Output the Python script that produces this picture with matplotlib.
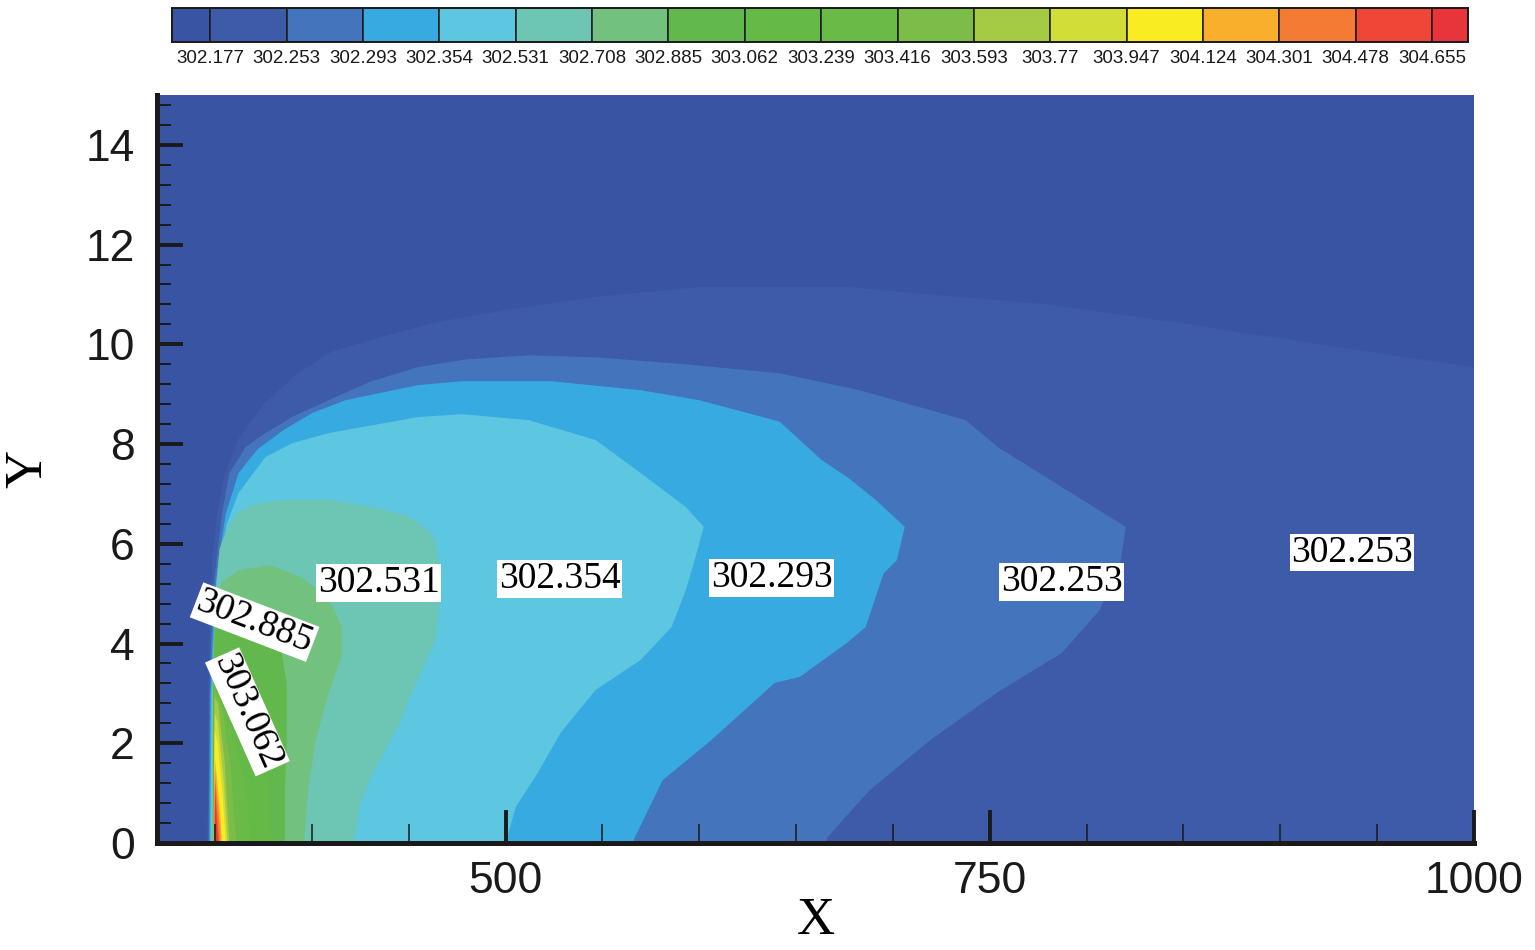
import matplotlib
matplotlib.use("Agg")
import matplotlib.pyplot as plt
from matplotlib.ticker import MultipleLocator

# contour levels shown in the legend bar
levels = ["302.177", "302.253", "302.293", "302.354", "302.531", "302.708",
          "302.885", "303.062", "303.239", "303.416", "303.593", "303.77",
          "303.947", "304.124", "304.301", "304.478", "304.655"]

# one colour per band (below first level ... above last level)
band_colors = ["#3a54a4", "#3d5ba8", "#4474bb", "#37aae2", "#5dc6e0", "#6dc5b4",
               "#72c17f", "#62b84c", "#64b947", "#69ba47", "#7bbd48", "#a5cb45",
               "#d2dd38", "#f9ec20", "#f9ae2c", "#f47b33", "#ee4637", "#e8343b"]

# region boundaries (T > level) as (X, Y)
edge_302177 = [(346.1, 0), (346.6, 3.0), (347.1, 4.5), (348.5, 5.7), (351.0, 6.6), (355.0, 7.4),
               (362.0, 8.1), (375.0, 8.8), (392.0, 9.4), (410.0, 9.85), (431.3, 10.1), (465.0, 10.45),
               (500.5, 10.69), (546.5, 10.95), (600.0, 11.15), (677.7, 11.15), (710.2, 11.03),
               (780.0, 10.8), (847.6, 10.43), (920.0, 10.0), (1000, 9.54), (1000, 0)]
edge_302253 = [(346.6, 0), (347.1, 3.0), (348.7, 5.0), (350.7, 5.67), (353.5, 6.6), (357.4, 7.42),
               (366.0, 7.95), (376.0, 8.22), (390.0, 8.55), (408.6, 8.88), (430.0, 9.25), (454.5, 9.54),
               (480.0, 9.7), (511.9, 9.78), (546.5, 9.74), (593.0, 9.6), (641.5, 9.42), (682.8, 9.08),
               (737.6, 8.48), (754.1, 7.94), (778.9, 7.34), (820.2, 6.34), (817.6, 5.67), (806.8, 4.67),
               (787.2, 3.81), (753.6, 3.01), (719.5, 2.07), (688.0, 1.06), (666.3, 0.12), (665.3, 0)]
edge_302293 = [(347.1, 0), (347.6, 3.0), (349.7, 5.0), (351.8, 5.67), (355.5, 6.6), (362.1, 7.42),
               (372.0, 7.9), (385.3, 8.28), (400.0, 8.62), (417.4, 8.88), (454.5, 9.18), (477.3, 9.26),
               (523.8, 9.26), (569.7, 9.08), (600.0, 8.88), (641.5, 8.45), (663.2, 7.68), (677.7, 7.3),
               (691.1, 6.88), (706.1, 6.34), (702.0, 5.67), (695.2, 5.41), (685.9, 4.33), (676.1, 4.01),
               (651.9, 3.33), (638.9, 3.21), (606.4, 2.07), (581.1, 1.26), (566.1, 0.06), (565.6, 0)]
edge_302354 = [(347.6, 0), (348.2, 3.0), (350.7, 5.0), (352.8, 5.67), (356.0, 6.4), (362.1, 7.02),
               (376.0, 7.74), (390.0, 8.02), (408.6, 8.22), (454.5, 8.54), (477.3, 8.60), (511.9, 8.48),
               (546.5, 8.08), (569.7, 7.42), (593.0, 6.74), (602.3, 6.34), (597.6, 5.67), (593.0, 5.07),
               (585.7, 4.33), (569.7, 3.67), (546.5, 3.07), (528.4, 2.21), (516.5, 1.40), (505.2, 0.72),
               (500.5, 0.06), (500.5, 0)]
edge_302531 = [(348.2, 0), (348.7, 3.0), (350.2, 5.0), (352.3, 5.9), (356.4, 6.34), (361.1, 6.6),
               (370.0, 6.8), (385.3, 6.88), (408.6, 6.88), (431.3, 6.74), (450.0, 6.55), (459.0, 6.3),
               (463.8, 6.08), (465.9, 5.4), (465.9, 4.73), (463.8, 4.07), (454.5, 3.27), (445.3, 2.41),
               (431.3, 1.40), (424.6, 0.72), (422.0, 0.06), (422.0, 0)]
edge_302708 = [(348.7, 0), (348.7, 3.0), (349.2, 4.07), (353.0, 5.21), (362.1, 5.47), (378.4, 5.57),
               (394.5, 5.33), (408.4, 4.93), (415.3, 4.33), (415.3, 3.73), (409.0, 3.07), (402.0, 2.07),
               (398.0, 1.06), (396.0, 0)]
edge_302885 = [(348.9, 0), (349.0, 3.0), (349.7, 4.3), (356.0, 4.6), (366.0, 4.65), (376.0, 4.4),
               (384.0, 3.9), (387.0, 3.2), (387.0, 2.07), (386.0, 1.0), (386.0, 0)]
edge_303062 = [(349.0, 0), (349.2, 3.5), (353.0, 3.9), (360.0, 3.6), (370.0, 2.6), (377.0, 1.4), (379.0, 0)]
edge_303239 = [(349.1, 0), (349.3, 3.2), (355.0, 2.9), (362.0, 1.8), (367.0, 0.8), (368.0, 0)]
edge_303416 = [(349.2, 0), (349.5, 3.1), (354.0, 2.7), (358.0, 1.5), (361.0, 0)]
edge_303593 = [(349.2, 0), (349.8, 2.9), (351.5, 2.8), (355.0, 1.6), (357.4, 0)]
edge_303770 = [(349.3, 0), (349.8, 2.6), (351.5, 2.4), (354.5, 1.2), (356.4, 0)]
edge_303947 = [(349.4, 0), (349.8, 2.25), (351.3, 2.0), (354.0, 0.9), (355.6, 0)]
edge_304124 = [(349.5, 0), (349.8, 1.7), (351.0, 1.3), (352.8, 0.5), (353.5, 0)]
edge_304301 = [(349.6, 0), (349.8, 1.45), (350.8, 1.0), (352.3, 0.4), (352.8, 0)]
edge_304478 = [(349.7, 0), (349.9, 1.2), (350.7, 0.7), (352.0, 0)]
edge_304655 = [(349.8, 0), (350.0, 0.9), (351.4, 0)]

regions = [edge_302177, edge_302253, edge_302293, edge_302354, edge_302531, edge_302708,
           edge_302885, edge_303062, edge_303239, edge_303416, edge_303593, edge_303770,
           edge_303947, edge_304124, edge_304301, edge_304478, edge_304655]

# in-plot contour labels: text, X, Y, rotation
label_text = ["302.531", "302.354", "302.293", "302.253", "302.253", "302.885", "303.062"]
label_x = [434.4, 527.9, 637.4, 787.2, 937.0, 370.4, 366.7]
label_y = [5.21, 5.29, 5.31, 5.23, 5.83, 4.43, 2.63]
label_rot = [0, 0, 0, 0, 0, -21, -66]

fig = plt.figure(figsize=(15.35, 9.5), dpi=100)
sans = ["Liberation Sans", "DejaVu Sans"]
serif = ["Liberation Serif", "DejaVu Serif"]

ax = fig.add_axes([157 / 1535, 1 - 843 / 950, (1474 - 157) / 1535, (843 - 95) / 950])
ax.set_facecolor(band_colors[0])
for i, reg in enumerate(regions):
    xs = [p[0] for p in reg]
    ys = [p[1] for p in reg]
    ax.fill(xs, ys, color=band_colors[i + 1], lw=0)

for t, x, y, r in zip(label_text, label_x, label_y, label_rot):
    ax.text(x, y, t, rotation=r, ha="center", va="center", fontsize=27, family=serif,
            rotation_mode="anchor",
            bbox=dict(facecolor="white", edgecolor="none", pad=1.0))

ax.set_xlim(320, 1000)
ax.set_ylim(0, 15)
ax.xaxis.set_major_locator(MultipleLocator(250))
ax.xaxis.set_minor_locator(MultipleLocator(50))
ax.yaxis.set_major_locator(MultipleLocator(2))
ax.yaxis.set_minor_locator(MultipleLocator(0.4))
for s in ["top", "right"]:
    ax.spines[s].set_visible(False)
for s in ["left", "bottom"]:
    ax.spines[s].set_linewidth(3.6)
    ax.spines[s].set_color("#1a1a1a")
ax.tick_params(axis="y", which="major", direction="in", length=19, width=2.8, pad=16, color="#1a1a1a")
ax.tick_params(axis="y", which="minor", direction="in", length=10, width=1.4, color="#1a1a1a")
ax.tick_params(axis="x", which="major", direction="in", length=24, width=2.8, pad=13, color="#1a1a1a")
ax.tick_params(axis="x", which="minor", direction="in", length=14, width=1.1, color="#1a1a1a")
for lab in ax.get_xticklabels() + ax.get_yticklabels():
    lab.set_fontsize(32)
    lab.set_family(sans)
    lab.set_color("#1a1a1a")
ax.set_xlabel("X", fontsize=38, family=serif, labelpad=-4)
ax.set_ylabel("Y", fontsize=38, family=serif, labelpad=24)

# legend bar at the top
cax = fig.add_axes([172 / 1535, 1 - 42 / 950, (1468 - 172) / 1535, 34 / 950])
lefts = [-0.5] + list(range(0, 17))
widths = [0.5] + [1] * 16 + [0.47]
cax.bar(lefts, [1] * len(lefts), width=widths, align="edge", color=band_colors,
        edgecolor="#1a1a1a", linewidth=1.1)
cax.set_xlim(-0.5, 16.47)
cax.set_ylim(0, 1)
cax.set_yticks([])
cax.set_xticks(range(len(levels)))
cax.set_xticklabels(levels, fontsize=13.5, family=sans, color="#1a1a1a")
cax.tick_params(axis="x", length=0, pad=6)
for s in cax.spines.values():
    s.set_linewidth(1.4)
    s.set_color("#1a1a1a")

fig.savefig("out.png", dpi=100)
